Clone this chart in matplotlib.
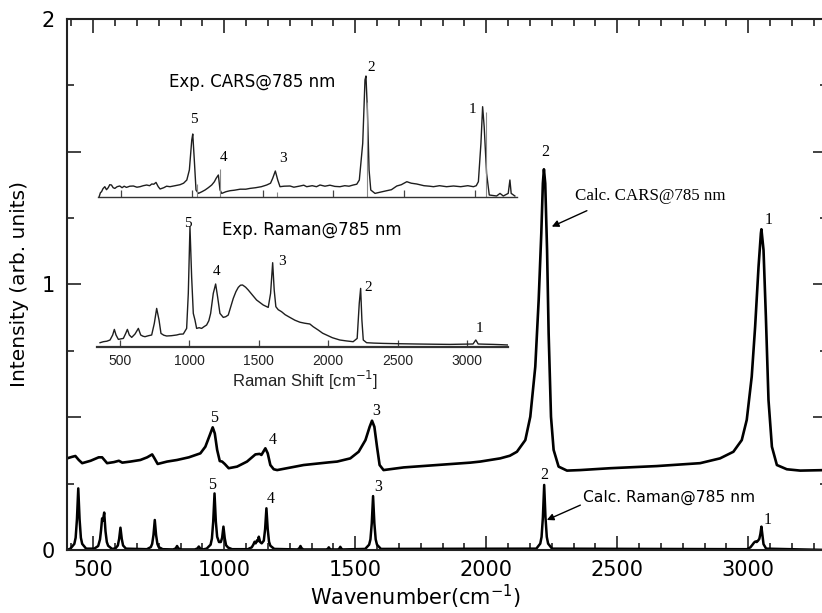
import matplotlib
matplotlib.use("Agg")
import matplotlib.pyplot as plt
from matplotlib.ticker import MultipleLocator, AutoMinorLocator, FuncFormatter, NullFormatter

# ---------------- data ----------------
# Calculated CARS spectrum (wavenumber, intensity)
calc_cars_pts = [
    (400, 0.345), (420, 0.351), (432, 0.354), (445, 0.339), (458, 0.327), (490, 0.336),
    (521, 0.349), (534, 0.349), (553, 0.327), (579, 0.331), (598, 0.336), (611, 0.329),
    (642, 0.333), (680, 0.339), (706, 0.349), (725, 0.360), (734, 0.345), (746, 0.324),
    (782, 0.333), (820, 0.339), (865, 0.349), (909, 0.364), (928, 0.389), (945, 0.433),
    (956, 0.462), (964, 0.439), (973, 0.377), (983, 0.335), (992, 0.333), (1002, 0.324),
    (1017, 0.308), (1049, 0.314), (1087, 0.333), (1119, 0.360), (1135, 0.362), (1142, 0.358),
    (1157, 0.383), (1166, 0.364), (1176, 0.320), (1189, 0.304), (1202, 0.301), (1303, 0.320),
    (1399, 0.330), (1431, 0.333), (1481, 0.345), (1513, 0.370), (1539, 0.414), (1555, 0.464),
    (1564, 0.487), (1573, 0.464), (1583, 0.389), (1593, 0.320), (1608, 0.301), (1685, 0.311),
    (1812, 0.320), (1939, 0.329), (1977, 0.333), (2053, 0.345), (2090, 0.355), (2117, 0.370),
    (2149, 0.414), (2168, 0.502), (2187, 0.690), (2200, 0.942), (2210, 1.193), (2216, 1.381),
    (2220, 1.434), (2225, 1.381), (2232, 1.130), (2238, 0.816), (2247, 0.502), (2257, 0.377),
    (2276, 0.314), (2308, 0.299), (2359, 0.301), (2473, 0.308), (2650, 0.316), (2816, 0.327),
    (2892, 0.345), (2943, 0.370), (2975, 0.414), (2994, 0.490), (3013, 0.653), (3026, 0.841),
    (3039, 1.067), (3048, 1.193), (3050, 1.208), (3058, 1.130), (3067, 0.879), (3077, 0.565),
    (3090, 0.389), (3109, 0.320), (3147, 0.304), (3198, 0.299), (3300, 0.301),
]

# Calculated Raman spectrum (wavenumber, intensity)
calc_raman_pts = [
    (400, 0.0),
    (413, 0.005), (428, 0.023), (433, 0.046), (438, 0.116), (443, 0.232), (448, 0.116),
    (453, 0.046), (458, 0.023), (473, 0.005),
    (504, 0.005), (519, 0.015), (526, 0.040), (530, 0.075), (534, 0.119), (537, 0.110),
    (542, 0.141), (547, 0.070), (552, 0.030), (557, 0.016), (572, 0.004),
    (585, 0.006), (594, 0.017), (599, 0.042), (604, 0.084), (609, 0.042), (614, 0.017), (625, 0.005),
    (705, 0.003), (720, 0.011), (725, 0.023), (730, 0.056), (735, 0.113), (740, 0.056),
    (745, 0.023), (750, 0.011), (765, 0.003),
    (805, 0.002), (815, 0.006), (820, 0.015), (825, 0.006), (835, 0.002),
    (888, 0.002), (898, 0.006), (903, 0.013), (908, 0.006), (918, 0.002),
    (933, 0.005), (948, 0.020), (953, 0.043), (958, 0.107), (963, 0.213), (968, 0.107),
    (973, 0.050), (980, 0.030), (987, 0.030), (992, 0.046), (997, 0.088), (1002, 0.044),
    (1007, 0.018), (1015, 0.009), (1030, 0.003),
    (1090, 0.003), (1105, 0.010), (1111, 0.020), (1116, 0.031), (1120, 0.025), (1125, 0.036),
    (1128, 0.033), (1132, 0.050), (1137, 0.030), (1143, 0.025), (1151, 0.035), (1156, 0.078),
    (1161, 0.157), (1166, 0.078), (1171, 0.031), (1176, 0.016), (1191, 0.004),
    (1280, 0.002), (1287, 0.007), (1291, 0.015), (1295, 0.007), (1302, 0.002),
    (1390, 0.002), (1396, 0.005), (1399, 0.010), (1402, 0.005), (1408, 0.002),
    (1434, 0.002), (1440, 0.006), (1443, 0.012), (1446, 0.006), (1452, 0.002),
    (1538, 0.004), (1553, 0.020), (1558, 0.040), (1563, 0.100), (1568, 0.203), (1573, 0.100),
    (1578, 0.040), (1583, 0.020), (1598, 0.004),
    (2191, 0.005), (2206, 0.024), (2211, 0.049), (2216, 0.122), (2221, 0.245), (2226, 0.122),
    (2231, 0.049), (2236, 0.024), (2251, 0.005),
    (2995, 0.003), (3008, 0.010), (3016, 0.020), (3022, 0.028), (3027, 0.032), (3032, 0.030),
    (3037, 0.035), (3042, 0.042), (3046, 0.060), (3050, 0.088), (3054, 0.055), (3058, 0.022),
    (3068, 0.005), (3300, 0.0),
]

# Experimental CARS (inset, wavenumber, arb. intensity)
exp_cars_pts = [
    (343, 0), (352, 4), (360, 5), (370, 8), (383, 10), (395, 7), (407, 9), (418, 12), (430, 11.7),
    (442, 9), (454, 8.3), (470, 10), (489, 10.7), (505, 9), (520, 10.5), (536, 9.3), (560, 10.5),
    (585, 10.7), (610, 9.5), (632, 10), (655, 11), (679, 11.7), (700, 11), (715, 12.7),
    (730, 12.5), (745, 14.3), (761, 10), (774, 7.7), (800, 9), (820, 10.5), (844, 10),
    (880, 11), (915, 12), (940, 13.5), (963, 16.7), (981, 26.7), (998, 56.7), (1005, 62.7),
    (1016, 36.7), (1028, 6.7), (1045, 3.3), (1070, 5), (1092, 6.7), (1115, 9), (1139, 11.7),
    (1158, 15), (1170, 18.3), (1186, 21.7), (1198, 6.7), (1210, 3.3), (1240, 5), (1269, 6),
    (1300, 6.5), (1340, 7.5), (1380, 7.5), (1410, 8.3), (1450, 9), (1490, 10), (1528, 11.7),
    (1555, 13.5), (1570, 18.3), (1589, 25.7), (1606, 16.7), (1622, 10), (1650, 10.5),
    (1693, 10.7), (1720, 9.5), (1764, 10.7), (1790, 11.5), (1811, 10), (1850, 11),
    (1880, 10), (1905, 11.7), (1940, 10.5), (1975, 11.5), (2010, 10.3), (2046, 10),
    (2080, 11), (2110, 10.5), (2140, 11.7), (2165, 12.5), (2183, 16.7), (2207, 53.3),
    (2223, 116.7), (2230, 120.7), (2240, 86.7), (2252, 26.7), (2264, 6.7), (2294, 3.3),
    (2330, 4.5), (2377, 6), (2410, 7), (2448, 10.7), (2480, 12), (2519, 15), (2550, 13.5),
    (2589, 12.7), (2640, 11), (2680, 10.5), (2707, 10), (2750, 11), (2800, 10), (2849, 10.7),
    (2900, 10), (2950, 11), (2990, 10), (3010, 11), (3025, 15), (3043, 53.3), (3055, 90),
    (3066, 70), (3083, 23.3), (3102, 1.7), (3154, 0.7), (3178, 3.3), (3201, 0.7),
    (3236, 3.3), (3248, 16.7), (3257, 3.3), (3283, 0.7),
]
exp_cars_markers = [1035, 1198, 1601, 2237, 3079]
exp_cars_marker_h = [13, 28, 5, 95, 85]

# Experimental Raman (inset, wavenumber, arb. intensity)
exp_raman_pts = [
    (356, 4), (380, 5), (405, 5.5), (428, 6.7), (447, 11.7), (459, 17.3), (471, 11.7),
    (488, 7.3), (505, 7.8), (524, 8.3), (541, 13.3), (553, 17.3), (567, 11.7), (584, 9.3),
    (608, 12.7), (632, 18.3), (649, 11.7), (665, 10.5), (680, 10), (705, 11), (728, 11.7),
    (747, 23.3), (764, 38.3), (781, 26.7), (795, 13.3), (815, 11.5), (836, 10.7), (870, 11),
    (908, 11.7), (930, 12.5), (956, 12.7), (980, 18.3), (992, 53.3), (1004, 120), (1016, 70),
    (1028, 33.3), (1040, 26.7), (1052, 18.3), (1070, 19), (1088, 18.3), (1105, 20),
    (1124, 21.7), (1140, 26), (1153, 33.3), (1172, 53.3), (1189, 62.7), (1203, 50),
    (1220, 33.3), (1244, 29.3), (1262, 30), (1280, 31.7), (1298, 40), (1316, 48.3),
    (1335, 55), (1352, 59.3), (1368, 61.5), (1383, 61.7), (1405, 59.5), (1424, 56.7),
    (1455, 51.5), (1484, 46.7), (1510, 44), (1532, 41.7), (1550, 40.5), (1568, 39.3),
    (1585, 53.3), (1600, 84), (1611, 56.7), (1623, 40), (1640, 37), (1664, 35), (1690, 32),
    (1724, 29.3), (1760, 26.5), (1796, 24.5), (1830, 23.5), (1868, 22.7), (1892, 20),
    (1930, 16.5), (1960, 13.5), (1988, 11.7), (2030, 9), (2084, 6.7), (2130, 5.8),
    (2180, 5), (2209, 8.3), (2224, 43.3), (2234, 58.3), (2243, 26.7), (2253, 6.7),
    (2277, 4), (2330, 3.6), (2397, 3.3), (2500, 3), (2637, 2.7), (2750, 2.5), (2876, 2.3),
    (2960, 2.5), (3044, 2.7), (3064, 6.7), (3081, 2.7), (3130, 2.5), (3189, 2.3),
    (3250, 2), (3297, 1.7),
]

# peak number labels: (wavenumber, intensity, label)
calc_cars_labels = [(963, 0.496, "5"), (1185, 0.414, "4"), (1580, 0.525, "3"),
                    (2225, 1.500, "2"), (3077, 1.243, "1")]
calc_raman_labels = [(954, 0.245, "5"), (1179, 0.191, "4"), (1587, 0.236, "3"),
                     (2222, 0.282, "2"), (3074, 0.113, "1")]
exp_cars_labels = [(1016, 76.7, "5"), (1221, 39, "4"), (1641, 38, "3"),
                   (2264, 129.4, "2"), (2982, 87.4, "1")]
exp_raman_labels = [(992, 123.4, "5"), (1196, 75, "4"), (1665, 85, "3"),
                    (2285, 59.4, "2"), (3088, 18.4, "1")]

inset_ticks = [500, 1000, 1500, 2000, 2500, 3000]

# ---------------- figure ----------------
W, H = 822, 613
fig = plt.figure(figsize=(W / 100, H / 100), dpi=100)


def fx(px):
    return px / W


def fy(py):
    return 1 - py / H


ax = fig.add_axes([0.0815, 0.1028, 0.9245, 0.8662])

cx, cy = zip(*calc_cars_pts)
rx, ry = zip(*calc_raman_pts)
ax.plot(cx, cy, color="black", lw=1.9, solid_joinstyle="round")
ax.plot(rx, ry, color="black", lw=1.8, solid_joinstyle="round")

ax.set_xlim(400, 3300)
ax.set_ylim(0, 2)
ax.xaxis.set_major_locator(MultipleLocator(500))
ax.xaxis.set_minor_locator(AutoMinorLocator(6))
ax.yaxis.set_major_locator(MultipleLocator(0.5))
ax.yaxis.set_minor_locator(MultipleLocator(0.25))
ax.yaxis.set_major_formatter(
    FuncFormatter(lambda v, p: f"{v:.0f}" if abs(v - round(v)) < 1e-6 else ""))
ax.tick_params(which="both", direction="in", top=True, right=True, labelsize=15,
               width=1.2, color="#222222")
ax.tick_params(which="major", length=10, pad=7)
ax.tick_params(which="minor", length=5)
ax.tick_params(axis="y", which="major", pad=9)
for s in ax.spines.values():
    s.set_linewidth(1.5)
    s.set_color("#222222")

ax.set_xlabel("Wavenumber(cm$^{-1}$)", fontsize=15)
ax.xaxis.label.set_va("center")
ax.xaxis.set_label_coords(0.459, (550 - 597) / 531)
ax.set_ylabel("Intensity (arb. units)", fontsize=14.5)
ax.yaxis.label.set_va("center")
ax.yaxis.set_label_coords(-0.062, 0.5)

serif = "Liberation Serif"
for x, y, t in calc_cars_labels + calc_raman_labels:
    ax.text(x, y, t, fontsize=11.5, family=serif, ha="center", va="center")

# annotations with arrows
ax.annotate("", xy=(2250, 1.218), xytext=(2384, 1.278),
            arrowprops=dict(arrowstyle="-|>", color="black", lw=1.0,
                            mutation_scale=10, shrinkA=0, shrinkB=0))
fig.text(fx(575), fy(196.5), "Calc. CARS@785 nm", fontsize=12.2, family=serif,
         ha="left", va="center")
ax.annotate("", xy=(2231, 0.113), xytext=(2359, 0.169),
            arrowprops=dict(arrowstyle="-|>", color="black", lw=1.0,
                            mutation_scale=10, shrinkA=0, shrinkB=0))
fig.text(fx(583), fy(497), "Calc. Raman@785 nm", fontsize=11.2,
         ha="left", va="center")

# ---------------- inset: experimental CARS ----------------
ic = fig.add_axes([fx(98.3), fy(196.7), fx(516.7 - 98.3), 140 / H])
ic.patch.set_alpha(0)
ex, ey = zip(*exp_cars_pts)
ic.plot(ex, ey, color="#1e1e1e", lw=1.0)
ic.vlines(exp_cars_markers, 0, exp_cars_marker_h, color="#8a8a8a", lw=0.8)
ic.set_xlim(337, 3296)
ic.set_ylim(0, 140)
for k in ("top", "left", "right"):
    ic.spines[k].set_visible(False)
ic.spines["bottom"].set_color("#333333")
ic.spines["bottom"].set_linewidth(1.0)
ic.set_yticks([])
ic.set_xticks(inset_ticks)
ic.xaxis.set_major_formatter(NullFormatter())
ic.tick_params(axis="x", direction="in", length=5, width=0.9, color="#444444")
for x, y, t in exp_cars_labels:
    ic.text(x, y, t, fontsize=11, family=serif, ha="center", va="center")
fig.text(fx(252), fy(82), "Exp. CARS@785 nm", fontsize=12, ha="center", va="center")

# ---------------- inset: experimental Raman ----------------
ir = fig.add_axes([fx(97), fy(346.7), fx(508 - 97), 140 / H])
ir.patch.set_alpha(0)
qx, qy = zip(*exp_raman_pts)
ir.plot(qx, qy, color="#1e1e1e", lw=1.0)
ir.set_xlim(334, 3296)
ir.set_ylim(0, 140)
for k in ("top", "left", "right"):
    ir.spines[k].set_visible(False)
ir.spines["bottom"].set_color("#333333")
ir.spines["bottom"].set_linewidth(1.6)
ir.set_yticks([])
ir.set_xticks(inset_ticks)
ir.tick_params(axis="x", direction="in", length=5, width=0.9, color="#444444",
               labelsize=10, pad=5, labelcolor="#222222")
for lab in ir.get_xticklabels():
    lab.set_family("Liberation Sans")
for x, y, t in exp_raman_labels:
    ir.text(x, y, t, fontsize=11, family=serif, ha="center", va="center")
fig.text(fx(222), fy(230), "Exp. Raman@785 nm", fontsize=12, ha="left", va="center")
fig.text(fx(305), fy(380), "Raman Shift [cm$^{-1}$]", fontsize=12,
         family="Liberation Sans", ha="center", va="center", color="#222222")

fig.savefig("out.png", dpi=100)
